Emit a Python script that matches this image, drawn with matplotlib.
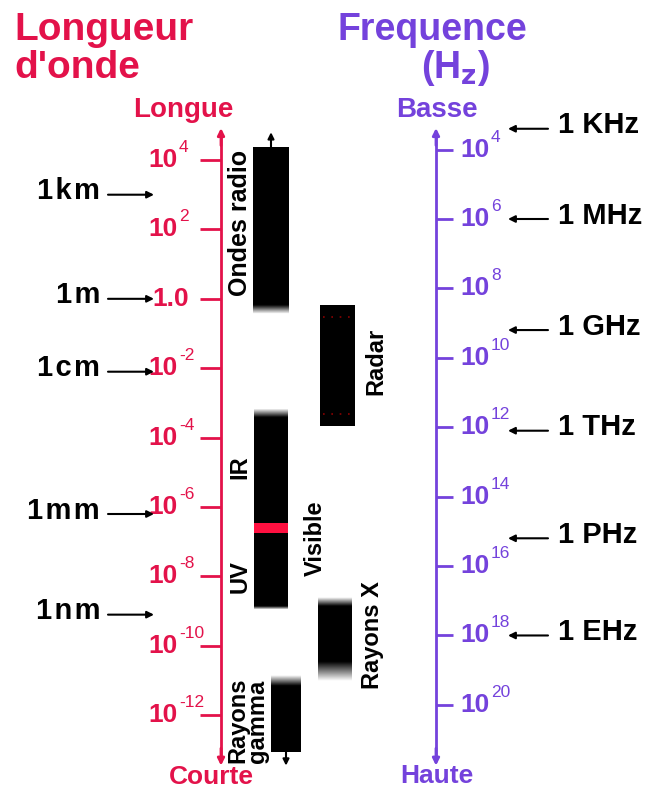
import matplotlib.pyplot as plt
import numpy as np

# --- data (exponents of ten) ---
wl_ticks = [4, 2, 0, -2, -4, -6, -8, -10, -12]
wl_tick_labels = ['4', '2', '1.0', '-2', '-4', '-6', '-8', '-10', '-12']

freq_ticks = [4, 6, 8, 10, 12, 14, 16, 18, 20]

wl_marks = ['1km', '1m', '1cm', '1mm', '1nm']
wl_mark_exp = [3.0, 0.0, -2.1, -6.2, -9.1]

freq_marks = ['1 KHz', '1 MHz', '1 GHz', '1 THz', '1 PHz', '1 EHz']
freq_mark_exp = [3.4, 6.0, 9.2, 12.1, 15.2, 18.0]

# bands: name, top exponent, bottom exponent
band_names = ['Ondes radio', 'Radar', 'IR-UV', 'Rayons X', 'Rayons gamma']
band_top = [4.35, -0.2, -3.15, -8.6, -10.85]
band_bottom = [-0.45, -3.66, -8.97, -11.0, -13.05]
visible_band = (-6.45, -6.76)

# frequency exponent -> position on wavelength scale
FREQ_OFFSET = 8.3

RED = '#e3124a'
PURPLE = '#7442dc'

plt.rcParams['font.family'] = ['Liberation Sans', 'DejaVu Sans']
plt.rcParams['font.weight'] = 'bold'

fig = plt.figure(figsize=(6.58, 7.92), dpi=100)
ax = fig.add_axes([0, 0, 1, 1])
ax.set_xlim(0, 658)
ax.set_ylim(-14.21, 8.61)
ax.axis('off')

AXIS_TOP = 4.92
AXIS_BOTTOM = -13.45


def spaced(s):
    # a little letter spacing like the original bitmap font
    return '\u200a'.join(s)


def fade_bar(x0, x1, top, bottom, fade_top=0.0, fade_bottom=0.0):
    """black bar with soft edges, drawn as an image in data coords"""
    ys = np.linspace(top, bottom, 200)
    alpha = np.ones_like(ys)
    if fade_top > 0:
        alpha = np.minimum(alpha, np.clip((top - ys) / fade_top, 0, 1))
    if fade_bottom > 0:
        alpha = np.minimum(alpha, np.clip((ys - bottom) / fade_bottom, 0, 1))
    img = np.zeros((len(ys), 1, 4))
    img[:, 0, 3] = alpha
    ax.imshow(img, extent=(x0, x1, bottom, top), aspect='auto',
              interpolation='bilinear', zorder=2)


def power(x, y, exp, color, size=19):
    """'10' ending at x, followed by a small superscript exponent"""
    if exp == '1.0':
        ax.text(x + 11, y, '1.0', color=color, fontsize=size, ha='right',
                va='center', fontweight='bold')
        return
    ax.text(x, y, '10', color=color, fontsize=size, ha='right',
            va='center', fontweight='bold')
    ax.text(x + 1, y + 0.36, exp, color=color, fontsize=size * 0.66,
            ha='left', va='center', fontweight='normal')


def arrow(x_from, x_to, y, lw=1.5):
    ax.annotate('', xy=(x_to, y), xytext=(x_from, y),
                arrowprops=dict(arrowstyle='-|>', color='black', lw=lw,
                                mutation_scale=10, shrinkA=0, shrinkB=0))


def axis_line(x, color):
    ax.plot([x, x], [AXIS_TOP - 0.3, AXIS_BOTTOM + 0.3], color=color, lw=2)
    for y0, y1 in [(AXIS_TOP - 0.5, AXIS_TOP), (AXIS_BOTTOM + 0.5, AXIS_BOTTOM)]:
        ax.annotate('', xy=(x, y1), xytext=(x, y0),
                    arrowprops=dict(arrowstyle='-|>', color=color, lw=2,
                                    mutation_scale=10, shrinkA=0, shrinkB=0))


# --- titles ---
ax.text(14, 7.75, 'Longueur', color=RED, fontsize=28, ha='left', va='center')
ax.text(14, 6.65, "d'onde", color=RED, fontsize=28, ha='left', va='center')
ax.text(337, 7.75, 'Frequence', color=PURPLE, fontsize=27, ha='left', va='center')
ax.text(455, 6.65, r'(H$_\mathbf{z}$)', color=PURPLE, fontsize=27, ha='center', va='center')

# --- wavelength axis ---
X_WL = 221
axis_line(X_WL, RED)
ax.text(183, 5.45, 'Longue', color=RED, fontsize=20, ha='center', va='center')
ax.text(211, -13.78, 'Courte', color=RED, fontsize=19, ha='center', va='center')
for e, lab in zip(wl_ticks, wl_tick_labels):
    ax.plot([200, X_WL], [e, e], color=RED, lw=2, solid_capstyle='butt')
    power(178, e, lab, RED)

# --- frequency axis ---
X_FQ = 436
axis_line(X_FQ, PURPLE)
ax.text(437, 5.45, 'Basse', color=PURPLE, fontsize=20, ha='center', va='center')
ax.text(437, -13.76, 'Haute', color=PURPLE, fontsize=19, ha='center', va='center')
for f in freq_ticks:
    e = FREQ_OFFSET - f
    ax.plot([X_FQ, 453], [e, e], color=PURPLE, lw=2, solid_capstyle='butt')
    power(490, e, str(f), PURPLE)

# --- wavelength markers ---
for lab, e in zip(wl_marks, wl_mark_exp):
    ax.text(100, e + 0.1, spaced(lab), color='black', fontsize=21,
            ha='right', va='center')
    arrow(108, 154, e)

# --- frequency markers ---
for lab, f in zip(freq_marks, freq_mark_exp):
    e = FREQ_OFFSET - f
    ax.text(558, e + 0.1, lab, color='black', fontsize=21,
            ha='left', va='center')
    arrow(548, 508, e)

# --- bands ---
# radio
fade_bar(253, 289, band_top[0], band_bottom[0], fade_bottom=0.25)
ax.annotate('', xy=(271, band_top[0] + 0.45), xytext=(271, band_top[0]),
            arrowprops=dict(arrowstyle='-|>', color='black', lw=1.5,
                            mutation_scale=9, shrinkA=0, shrinkB=0))
ax.text(240, 2.2, 'Ondes radio', rotation=90, fontsize=18, ha='center', va='center')

# radar
fade_bar(320, 355, band_top[1], band_bottom[1])
for e in [band_top[1] - 0.32, band_bottom[1] + 0.35]:
    ax.plot([323, 352], [e, e], color='#8a0000', lw=1.2, ls=(0, (1, 4)), zorder=3)
ax.text(376, -1.8, 'Radar', rotation=90, fontsize=17, ha='center', va='center')

# IR / visible / UV
fade_bar(254, 288, band_top[2], band_bottom[2], fade_top=0.25, fade_bottom=0.1)
ax.fill_between([254, 288], visible_band[0], visible_band[1], color='#ff1040',
                lw=0, zorder=3)
ax.text(240, -4.85, 'IR', rotation=90, fontsize=17, ha='center', va='center')
ax.text(315, -6.9, 'Visible', rotation=90, fontsize=17, ha='center', va='center')
ax.text(240, -8.0, 'UV', rotation=90, fontsize=17, ha='center', va='center')

# X rays
fade_bar(318, 352, band_top[3], band_bottom[3], fade_top=0.25, fade_bottom=0.55)
ax.text(372, -9.7, 'Rayons X', rotation=90, fontsize=17, ha='center', va='center')

# gamma rays
fade_bar(271, 301, band_top[4], band_bottom[4], fade_top=0.3)
ax.annotate('', xy=(286, band_bottom[4] - 0.4), xytext=(286, band_bottom[4]),
            arrowprops=dict(arrowstyle='-|>', color='black', lw=1.5,
                            mutation_scale=9, shrinkA=0, shrinkB=0))
ax.text(248, -12.15, 'Rayons\ngamma', rotation=90, fontsize=17, ha='center',
        va='center', multialignment='left', linespacing=0.8)

fig.savefig('out.png', dpi=100)
